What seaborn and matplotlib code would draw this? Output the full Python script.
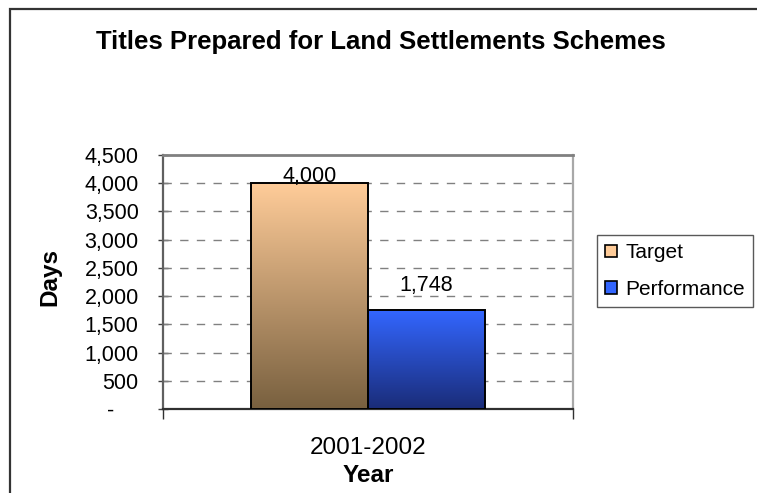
import numpy as np
import pandas as pd
import matplotlib
matplotlib.use("Agg")
import matplotlib.pyplot as plt
import matplotlib.ticker as mticker
from matplotlib.patches import Rectangle, Patch
from matplotlib.colors import LinearSegmentedColormap
import seaborn as sns

# ---- data ----
years = ["2001-2002"]
series = ["Target", "Performance"]
values = [4000, 1748]

title = "Titles Prepared for Land Settlements Schemes"
y_label = "Days"
x_label = "Year"
y_ticks = [0, 500, 1000, 1500, 2000, 2500, 3000, 3500, 4000, 4500]

# ---- styling ----
solid_colors = {"Target": "#FFCC99", "Performance": "#3366FF"}
gradients = {
    "Target": ("#FFCC99", "#78603F"),
    "Performance": ("#3366FF", "#1A2C78"),
}

sns.set_style("white")
plt.rcParams["font.family"] = ["Liberation Sans", "DejaVu Sans"]
plt.rcParams.update({"text.color": "black", "axes.labelcolor": "black",
                     "xtick.color": "black", "ytick.color": "black"})

df = pd.DataFrame({
    "Year": np.repeat(years, len(series)),
    "Series": series * len(years),
    "Value": values,
})

W, H, DPI = 757, 493, 100
fig = plt.figure(figsize=(W / DPI, H / DPI), dpi=DPI)
fig.patch.set_facecolor("white")

# outer chart frame
fig.patches.append(Rectangle((10 / W, -0.05), 1.2, (H - 9) / H + 0.05,
                             transform=fig.transFigure, fill=False,
                             edgecolor="#333333", linewidth=1.6, zorder=0))

ax = fig.add_axes([163 / W, 84 / H, 410 / W, 254 / H])

sns.barplot(data=df, x="Year", y="Value", hue="Series", hue_order=series,
            palette=solid_colors, width=0.57, edgecolor="black", linewidth=1.4,
            legend=False, ax=ax, zorder=3)

# gradient fills clipped to each bar
for patch, name in zip(ax.patches, series):
    top, bottom = gradients[name]
    cmap = LinearSegmentedColormap.from_list(name, [bottom, top])
    x0, y0 = patch.get_x(), patch.get_y()
    w, h = patch.get_width(), patch.get_height()
    grad = np.linspace(0, 1, 256).reshape(-1, 1)
    im = ax.imshow(grad, cmap=cmap, origin="lower", aspect="auto",
                   extent=(x0, x0 + w, y0, y0 + h), zorder=3.5)
    im.set_clip_path(patch)
    patch.set_facecolor("none")
    patch.set_zorder(4)

ax.set_xlim(-0.5, 0.5)
ax.set_ylim(0, 4500)

# value labels
offsets = {"Target": 1, "Performance": 19}
for name, v, patch in zip(series, values, ax.patches):
    cx = patch.get_x() + patch.get_width() / 2
    ax.annotate(f"{v:,}", xy=(cx, v), xytext=(0, offsets[name]),
                textcoords="offset pixels", ha="center", va="baseline",
                fontsize=15.5, color="black", zorder=5)

# gridlines
ax.yaxis.set_major_locator(mticker.FixedLocator(y_ticks))
ax.yaxis.set_major_formatter(mticker.FuncFormatter(
    lambda v, p: "-    " if v == 0 else f"{int(v):,}"))
for yv in y_ticks[1:-1]:
    ax.axhline(yv, color="#808080", linewidth=1.0, linestyle=(0, (6, 6)), zorder=1)

ax.tick_params(axis="y", which="major", direction="inout", length=7, width=1,
               color="#404040", labelsize=15.5, pad=14, left=True)

# category ticks at group boundaries, label in the middle
ax.set_xticks([0])
ax.set_xticklabels(years)
ax.set_xticks([-0.5, 0.5], minor=True)
ax.tick_params(axis="x", which="major", length=0, labelsize=17.5, pad=20)
ax.tick_params(axis="x", which="minor", direction="out", length=7, width=1,
               color="#303030", bottom=True)

ax.set_xlabel(x_label, fontsize=17.5, fontweight="bold", va="center")
ax.xaxis.set_label_coords(0.5, (409 - 475) / 254)
ax.set_ylabel(y_label, fontsize=17.5, fontweight="bold", va="center")
ax.yaxis.set_label_coords((50 - 163) / 410, (409 - 277) / 254)

for side, col, lw in [("top", "#808080", 2.0), ("right", "#A8A8A8", 1.6),
                      ("left", "#606060", 1.6), ("bottom", "#303030", 1.6)]:
    ax.spines[side].set_visible(True)
    ax.spines[side].set_color(col)
    ax.spines[side].set_linewidth(lw)

fig.text(381 / W, 1 - 42 / H, title, ha="center", va="center",
         fontsize=18.5, fontweight="bold")

handles = [Patch(facecolor=solid_colors[s], edgecolor="black", linewidth=1.2,
                 label=s) for s in series]
leg = fig.legend(handles=handles, loc="upper left",
                 bbox_to_anchor=(597 / W, 1 - 235 / H), borderaxespad=0,
                 fontsize=15, frameon=True, fancybox=False, shadow=False,
                 handlelength=0.55, handleheight=0.55, handletextpad=0.4,
                 labelspacing=0.85, borderpad=0.4)
leg.get_frame().set_edgecolor("#303030")
leg.get_frame().set_linewidth(1.0)

fig.savefig("out.png", dpi=DPI, facecolor="white")
